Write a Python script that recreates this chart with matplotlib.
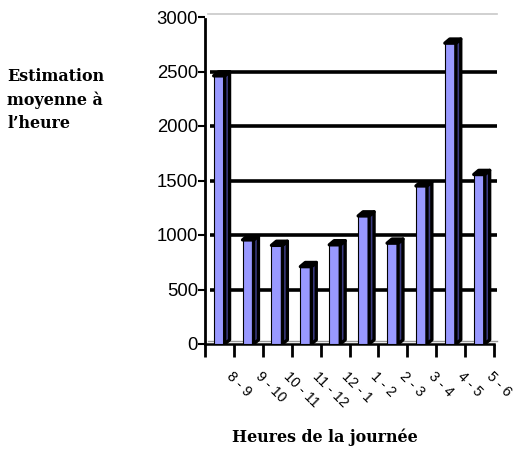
import matplotlib
matplotlib.use("Agg")
import matplotlib.pyplot as plt
import matplotlib.transforms as mtransforms
from matplotlib.patches import Polygon

# data
hours = ["8 - 9", "9 - 10", "10 - 11", "11 - 12", "12 - 1",
         "1 - 2", "2 - 3", "3 - 4", "4 - 5", "5 - 6"]
estimates = [2460, 955, 905, 710, 910, 1175, 925, 1450, 2760, 1555]
yticks = [0, 500, 1000, 1500, 2000, 2500, 3000]

face = "#9999ff"
side = "#3a3a80"

fig = plt.figure(figsize=(5.17, 4.51), dpi=100)
ax = fig.add_axes([205 / 517, 1 - 344 / 451, 289 / 517, 327 / 451])
ax.set_xlim(0, len(hours))
ax.set_ylim(0, 3000)

# back wall grid
for v in yticks[1:-1]:
    ax.plot([0.18, 10.1], [v, v], color="black", lw=2.6, zorder=1,
            solid_capstyle="butt", clip_on=False)
ax.plot([0.1, 10.1], [3025, 3025], color="#c8c8c8", lw=1.2, zorder=1, clip_on=False)
ax.plot([0.1, 10.1], [25, 25], color="#999999", lw=1.0, zorder=1, clip_on=False)

# pseudo 3d bars
w = 0.38
dx, dy = 0.17, 38
for i, v in enumerate(estimates):
    x0 = i + 0.3
    ax.bar(x0, v, width=w, align="edge", color=face, edgecolor="black",
           lw=0.8, zorder=3)
    ax.add_patch(Polygon([(x0 + w, 0), (x0 + w + dx, dy), (x0 + w + dx, v + dy),
                          (x0 + w, v)], closed=True, facecolor=side,
                         edgecolor="black", lw=2.4, zorder=4, joinstyle="round"))
    ax.add_patch(Polygon([(x0, v), (x0 + dx, v + dy), (x0 + w + dx, v + dy),
                          (x0 + w, v)], closed=True, facecolor="black",
                         edgecolor="black", lw=2.4, zorder=4, joinstyle="round"))

for s in ["top", "right"]:
    ax.spines[s].set_visible(False)
ax.spines["left"].set_linewidth(2)
ax.spines["bottom"].set_linewidth(1.8)
ax.spines["left"].set_bounds(0, 2980)

ax.set_yticks(yticks)
ax.set_yticklabels([str(t) for t in yticks], fontsize=13.3, family="Liberation Sans")
ax.tick_params(axis="y", length=5, width=1.5, pad=0)
ax.set_xticks(range(len(hours) + 1))
ax.set_xticklabels([])
ax.tick_params(axis="x", length=9, width=2, direction="out")

off = mtransforms.ScaledTranslation(0.14, -0.25, fig.dpi_scale_trans)
trans = mtransforms.blended_transform_factory(ax.transData, ax.transAxes) + off
for i, lab in enumerate(hours):
    ax.text(i + 0.5, 0, lab, transform=trans, rotation=-45, rotation_mode="anchor",
            ha="left", va="top", fontsize=10.3, family="Liberation Sans")

serif = dict(family="DejaVu Serif", fontweight="bold", fontsize=11.4)
fig.text(7 / 517, 1 - 100 / 451, "Estimation\nmoyenne à\nl\u2019heure", ha="left",
         va="center", linespacing=1.45, **serif)
fig.text(325 / 517, 1 - 437 / 451, "Heures de la journée", ha="center",
         va="center", **serif)

fig.savefig("out.png", dpi=100)
